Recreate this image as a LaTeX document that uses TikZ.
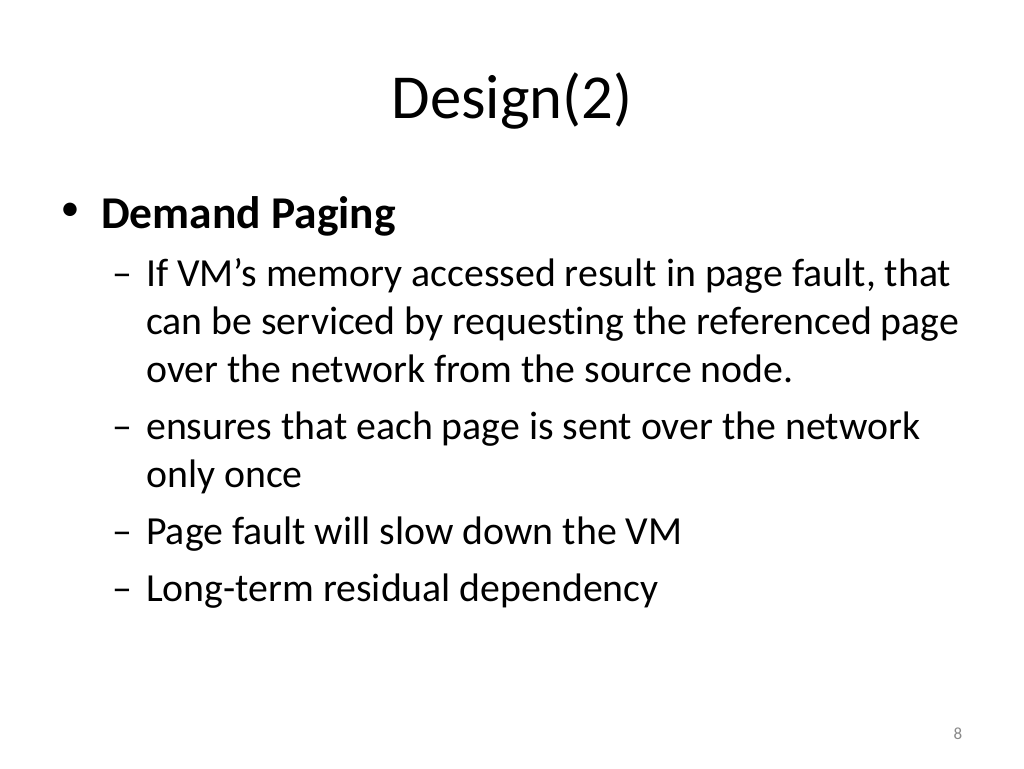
\documentclass[tikz,border=0pt]{standalone}
\usepackage{fontspec}
\setmainfont{Carlito}[Ligatures={NoCommon}]
\usetikzlibrary{positioning}

\begin{document}
\begin{tikzpicture}[x=1pt, y=-1pt]
      % Define colors
      \definecolor{footgray}{RGB}{137, 137, 137}

      % Slide area
      \useasboundingbox (0,0) rectangle (1024,768);
      \fill[white] (0,0) rectangle (1024,768);

      \tikzset{
        lvlone/.style={anchor=base west, inner sep=0pt, font=\fontsize{45.5}{54.6}\selectfont},
        lvltwo/.style={anchor=base west, inner sep=0pt, align=left, font=\fontsize{39.8}{47.8}\selectfont},
        dashmark/.style={anchor=base west, inner sep=0pt, font=\fontsize{39.8}{47.8}\selectfont}
      }

      % Title
      \node[anchor=base, inner sep=0pt, font=\fontsize{62.6}{75}\selectfont] (title) at (512,118) {Design(2)};

      % First level bullet
      \node[anchor=center, inner sep=0pt, font=\fontsize{38}{45}\selectfont] (dot) at (70,212) {\textbullet};
      \node[lvlone] (demand) at (101,228) {\textbf{Demand Paging}};

      % Second level items (base = last line)
      \node[dashmark] (dasha) at (112,286) {\textendash};
      \node[lvltwo] (itema) at (146,382) {If VM’s memory accessed result in page fault, that\\can be serviced by requesting the referenced page\\over the network from the source node.};

      \node[dashmark] (dashb) at (112,439) {\textendash};
      \node[lvltwo] (itemb) at (146,487) {ensures that each page is sent over the network\\only once};

      \node[dashmark] (dashc) at (112,544) {\textendash};
      \node[lvltwo] (itemc) at (146,544) {Page fault will slow down the VM};

      \node[dashmark] (dashd) at (112,601) {\textendash};
      \node[lvltwo] (itemd) at (146,601) {Long-term residual dependency};

      % Page number
      \node[anchor=base, inner sep=0pt, footgray, font=\fontsize{17}{20}\selectfont] (pageno) at (958,739) {8};

    \end{tikzpicture}
\end{document}
